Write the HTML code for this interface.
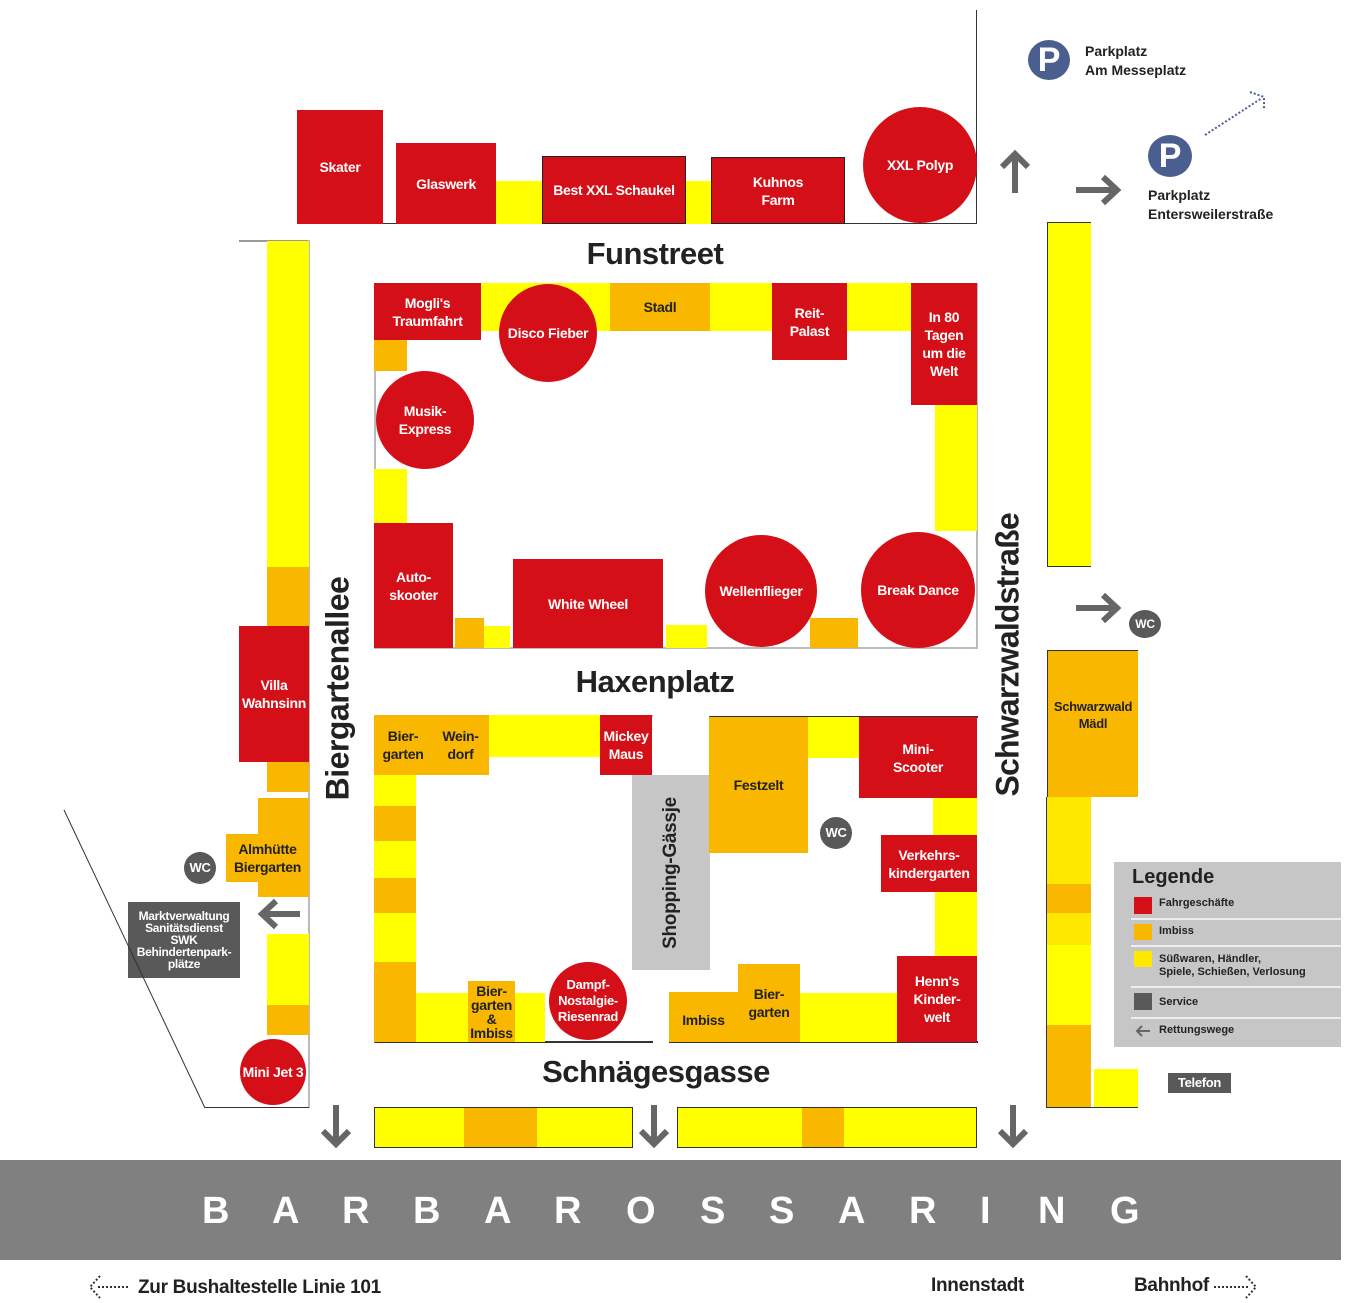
<!DOCTYPE html>
<html><head><meta charset="utf-8"><style>
*{margin:0;padding:0;box-sizing:border-box}
body{width:1352px;height:1303px;position:relative;background:#fff;overflow:hidden;font-family:"Liberation Sans Narrow","Liberation Sans",sans-serif;font-weight:bold}
div{position:absolute}
.b{display:flex;align-items:center;justify-content:center;text-align:center;font-size:14px;line-height:18px;letter-spacing:-0.3px}
.r{background:#d40f17;color:#fff}
.y{background:#ffff00}
.o{background:#f9b700;color:#222}
.c{border-radius:50%}
.g{background:#595959;color:#fff}
.t{font-family:"Liberation Sans",sans-serif;color:#222;white-space:nowrap}
.ln{background:#999}
</style></head><body>

<div class="ln" style="left:976px;top:10px;width:1px;height:214px;background:#333"></div>
<div class="ln" style="left:297px;top:223px;width:680px;height:1px;background:#333"></div>
<div class="b r" style="left:297px;top:110px;width:86px;height:114px">Skater</div>
<div class="b r" style="left:396px;top:143px;width:100px;height:81px">Glaswerk</div>
<div class="y" style="left:496px;top:181px;width:46px;height:43px"></div>
<div class="b r" style="left:542px;top:156px;width:144px;height:68px;border:1px solid #222">Best XXL Schaukel</div>
<div class="y" style="left:686px;top:181px;width:25px;height:43px"></div>
<div class="b r" style="left:711px;top:157px;width:134px;height:67px;border:1px solid #222">Kuhnos<br>Farm</div>
<div class="b r c" style="left:863px;top:107px;width:114px;height:116px">XXL Polyp</div>

<div class="t" style="left:540px;top:236px;width:230px;text-align:center;font-size:31px;letter-spacing:-0.5px">Funstreet</div>

<div class="ln" style="left:239px;top:240px;width:70px;height:2px"></div>
<div class="ln" style="left:308px;top:240px;width:2px;height:868px;background:#bbb"></div>
<div class="y" style="left:267px;top:241px;width:42px;height:326px"></div>
<div class="o" style="left:267px;top:567px;width:42px;height:59px"></div>
<div class="b r" style="left:239px;top:626px;width:70px;height:136px">Villa<br>Wahnsinn</div>
<div class="o" style="left:267px;top:762px;width:42px;height:30px"></div>
<div class="o" style="left:258px;top:798px;width:51px;height:99px"></div>
<div class="b o" style="left:226px;top:834px;width:83px;height:48px">Almhütte<br>Biergarten</div>
<div class="b g c" style="left:184px;top:852px;width:32px;height:32px;font-size:13px">WC</div>
<div class="b g" style="left:128px;top:902px;width:112px;height:76px;font-size:12px;line-height:12px">Marktverwaltung<br>Sanitätsdienst<br>SWK<br>Behindertenpark-<br>plätze</div>
<div class="y" style="left:267px;top:934px;width:42px;height:71px"></div>
<div class="o" style="left:267px;top:1005px;width:42px;height:30px"></div>
<div class="b r c" style="left:240px;top:1039px;width:66px;height:66px">Mini Jet 3</div>
<div class="ln" style="left:205px;top:1107px;width:104px;height:1px;background:#333"></div>
<svg style="position:absolute;left:0;top:0" width="1352" height="1303">
<line x1="64" y1="810" x2="205" y2="1108" stroke="#333" stroke-width="1"/>
<g stroke="#666" stroke-width="6" fill="none">
<path d="M300 914H262M276 901L262 914L276 927"/>
<path d="M336 1105V1143M323 1131L336 1144L349 1131"/>
<path d="M654 1105V1143M641 1131L654 1144L667 1131"/>
<path d="M1013 1105V1143M1000 1131L1013 1144L1026 1131"/>
<path d="M1015 193V155M1002 167L1015 154L1028 167"/>
<path d="M1076 190H1116M1103 177L1117 190L1103 203"/>
<path d="M1076 608H1116M1103 595L1117 608L1103 621"/>
</g>
<g stroke="#4a5f8f" stroke-width="2" fill="none" stroke-dasharray="2 2">
<path d="M1205 135L1262 98M1250 92L1264 97L1264 110"/>
</g>
<g stroke="#333" stroke-width="2" fill="none" stroke-dasharray="2 2">
<path d="M128 1287H96M100 1276L90 1287L100 1298"/>
<path d="M1214 1287H1250M1246 1276L1256 1287L1246 1298"/>
</g>
</svg>
<div class="t" style="left:320px;top:690px;width:36px;height:0;"><div style="left:-100px;top:-20px;width:236px;text-align:center;font-size:32px;letter-spacing:-0.5px;transform:rotate(-90deg)">Biergartenallee</div></div>

<div style="left:374px;top:283px;width:604px;height:366px;border:2px solid #bbb"></div>
<div class="y" style="left:481px;top:283px;width:430px;height:48px"></div>
<div class="b r" style="left:374px;top:283px;width:107px;height:57px">Mogli's<br>Traumfahrt</div>
<div class="b o" style="left:610px;top:283px;width:100px;height:48px">Stadl</div>
<div class="b r c" style="left:499px;top:284px;width:98px;height:98px">Disco Fieber</div>
<div class="b r" style="left:772px;top:283px;width:75px;height:77px">Reit-<br>Palast</div>
<div class="b r" style="left:911px;top:283px;width:66px;height:122px">In 80<br>Tagen<br>um die<br>Welt</div>
<div class="y" style="left:935px;top:405px;width:42px;height:126px"></div>
<div class="o" style="left:374px;top:340px;width:33px;height:31px"></div>
<div class="b r c" style="left:376px;top:371px;width:98px;height:98px">Musik-<br>Express</div>
<div class="y" style="left:374px;top:469px;width:33px;height:54px"></div>
<div class="b r" style="left:374px;top:523px;width:79px;height:125px">Auto-<br>skooter</div>
<div class="o" style="left:455px;top:618px;width:29px;height:30px"></div>
<div class="y" style="left:484px;top:626px;width:26px;height:22px"></div>
<div class="b r" style="left:513px;top:559px;width:150px;height:89px">White Wheel</div>
<div class="y" style="left:666px;top:625px;width:41px;height:23px"></div>
<div class="o" style="left:810px;top:618px;width:48px;height:30px"></div>
<div class="b r c" style="left:705px;top:535px;width:112px;height:112px">Wellenflieger</div>
<div class="b r c" style="left:861px;top:532px;width:114px;height:116px">Break Dance</div>

<div class="t" style="left:540px;top:664px;width:230px;text-align:center;font-size:31px;letter-spacing:-0.5px">Haxenplatz</div>

<div style="left:374px;top:715px;width:279px;height:328px;border-left:2px solid #bbb;border-top:2px solid #bbb;border-bottom:2px solid #333"></div>
<div class="y" style="left:489px;top:715px;width:111px;height:42px"></div>
<div class="b o" style="left:374px;top:715px;width:58px;height:60px">Bier-<br>garten</div>
<div class="b o" style="left:432px;top:715px;width:57px;height:60px">Wein-<br>dorf</div>
<div class="b r" style="left:600px;top:715px;width:52px;height:60px">Mickey<br>Maus</div>
<div class="y" style="left:374px;top:775px;width:42px;height:31px"></div>
<div class="o" style="left:374px;top:806px;width:42px;height:35px"></div>
<div class="y" style="left:374px;top:841px;width:42px;height:37px"></div>
<div class="o" style="left:374px;top:878px;width:42px;height:35px"></div>
<div class="y" style="left:374px;top:913px;width:42px;height:49px"></div>
<div class="o" style="left:374px;top:962px;width:42px;height:80px"></div>
<div class="y" style="left:416px;top:993px;width:129px;height:49px"></div>
<div class="b o" style="left:468px;top:981px;width:47px;height:61px;line-height:14px">Bier-<br>garten<br>&amp;<br>Imbiss</div>
<div class="b r c" style="left:549px;top:962px;width:78px;height:78px;font-size:13px;line-height:16px">Dampf-<br>Nostalgie-<br>Riesenrad</div>
<div class="b" style="left:632px;top:775px;width:78px;height:195px;background:#c6c6c6"><div style="position:static;transform:rotate(-90deg);white-space:nowrap;font-family:'Liberation Sans',sans-serif;font-size:19px;color:#222">Shopping-Gässje</div></div>

<div style="left:669px;top:716px;width:309px;height:327px;border-top:2px solid #333;border-bottom:2px solid #333;border-left:1px solid #333;clip-path:polygon(0 0,100% 0,100% 100%,0 100%,0 85%,13% 85%,13% 0)"></div>
<div class="b o" style="left:709px;top:717px;width:99px;height:136px">Festzelt</div>
<div class="y" style="left:808px;top:717px;width:51px;height:41px"></div>
<div class="b r" style="left:859px;top:717px;width:118px;height:81px">Mini-<br>Scooter</div>
<div class="y" style="left:933px;top:798px;width:44px;height:37px"></div>
<div class="b r" style="left:881px;top:835px;width:96px;height:57px">Verkehrs-<br>kindergarten</div>
<div class="y" style="left:935px;top:892px;width:42px;height:64px"></div>
<div class="b r" style="left:897px;top:956px;width:80px;height:86px">Henn's<br>Kinder-<br>welt</div>
<div class="b g c" style="left:820px;top:817px;width:32px;height:32px;font-size:13px">WC</div>
<div class="b o" style="left:669px;top:992px;width:69px;height:50px;padding-top:6px">Imbiss</div>
<div class="b o" style="left:738px;top:964px;width:62px;height:78px">Bier-<br>garten</div>
<div class="y" style="left:800px;top:993px;width:97px;height:49px"></div>

<div class="t" style="left:520px;top:1054px;width:272px;text-align:center;font-size:31px;letter-spacing:-0.5px">Schnägesgasse</div>

<div class="y" style="left:374px;top:1107px;width:259px;height:41px;border:1px solid #333"></div>
<div class="o" style="left:464px;top:1108px;width:73px;height:39px"></div>
<div class="y" style="left:677px;top:1107px;width:300px;height:41px;border:1px solid #333"></div>
<div class="o" style="left:802px;top:1108px;width:42px;height:39px"></div>

<div style="left:0;top:1160px;width:1341px;height:100px;background:#808080"></div>
<div style="left:0;top:1190px;width:1352px;height:44px;font-family:'Liberation Sans',sans-serif;font-size:38px;color:#fff">
<span style="position:absolute;left:202px">B</span><span style="position:absolute;left:272px">A</span><span style="position:absolute;left:342px">R</span><span style="position:absolute;left:413px">B</span><span style="position:absolute;left:484px">A</span><span style="position:absolute;left:554px">R</span><span style="position:absolute;left:626px">O</span><span style="position:absolute;left:700px">S</span><span style="position:absolute;left:769px">S</span><span style="position:absolute;left:838px">A</span><span style="position:absolute;left:909px">R</span><span style="position:absolute;left:980px">I</span><span style="position:absolute;left:1038px">N</span><span style="position:absolute;left:1110px">G</span>
</div>
<div class="t" style="left:138px;top:1277px;font-size:19px;letter-spacing:-0.3px">Zur Bushaltestelle Linie 101</div>
<div class="t" style="left:931px;top:1275px;font-size:19px;letter-spacing:-0.3px">Innenstadt</div>
<div class="t" style="left:1134px;top:1275px;font-size:19px;letter-spacing:-0.3px">Bahnhof</div>

<div class="t" style="left:990px;top:660px;width:36px;height:0"><div style="left:-120px;top:-20px;width:276px;text-align:center;font-size:32px;letter-spacing:-0.8px;transform:rotate(-90deg)">Schwarzwaldstraße</div></div>
<div class="y" style="left:1047px;top:222px;width:44px;height:345px;border-left:1px solid #333;border-top:1px solid #333;border-bottom:1px solid #333"></div>
<div class="b g" style="left:1129px;top:610px;width:32px;height:28px;border-radius:50%;font-size:12px;font-family:'Liberation Sans',sans-serif">WC</div>
<div class="b o" style="left:1047px;top:650px;width:91px;height:147px;font-size:13px;line-height:17px;font-family:'Liberation Sans',sans-serif;border-left:1px solid #333;border-top:1px solid #333;padding-bottom:18px">Schwarzwald<br>Mädl</div>
<div style="left:1047px;top:797px;width:44px;height:87px;background:#ffe800"></div>
<div class="o" style="left:1047px;top:884px;width:44px;height:29px"></div>
<div style="left:1047px;top:913px;width:44px;height:32px;background:#ffe800"></div>
<div class="y" style="left:1047px;top:945px;width:44px;height:80px"></div>
<div class="o" style="left:1047px;top:1025px;width:44px;height:82px"></div>
<div style="left:1046px;top:797px;width:1px;height:311px;background:#333"></div>
<div style="left:1046px;top:1107px;width:92px;height:1px;background:#333"></div>
<div class="y" style="left:1094px;top:1069px;width:44px;height:38px"></div>
<div class="b g" style="left:1168px;top:1073px;width:63px;height:20px;font-size:13px;font-family:'Liberation Sans',sans-serif">Telefon</div>

<div style="left:1114px;top:862px;width:227px;height:185px;background:#c6c6c6;font-family:'Liberation Sans',sans-serif;color:#222">
<div style="left:18px;top:4px;font-size:20px">Legende</div>
<div style="left:20px;top:35px;width:18px;height:17px;background:#d40f17"></div>
<div style="left:45px;top:35px;font-size:11px">Fahrgeschäfte</div>
<div style="left:17px;top:56px;width:210px;height:2px;background:#eee"></div>
<div style="left:20px;top:62px;width:18px;height:16px;background:#f9b700"></div>
<div style="left:45px;top:63px;font-size:11px">Imbiss</div>
<div style="left:17px;top:83px;width:210px;height:2px;background:#eee"></div>
<div style="left:20px;top:89px;width:18px;height:16px;background:#ffe800"></div>
<div style="left:45px;top:91px;font-size:11px;line-height:13px;white-space:nowrap">Süßwaren, Händler,<br>Spiele, Schießen, Verlosung</div>
<div style="left:17px;top:124px;width:210px;height:2px;background:#eee"></div>
<div style="left:20px;top:131px;width:18px;height:17px;background:#595959"></div>
<div style="left:45px;top:134px;font-size:11px">Service</div>
<div style="left:17px;top:155px;width:210px;height:2px;background:#eee"></div>
<svg style="position:absolute;left:20px;top:162px" width="18" height="14"><path d="M16 7H3M8 2L3 7L8 12" stroke="#666" stroke-width="2" fill="none"/></svg>
<div style="left:45px;top:162px;font-size:11px">Rettungswege</div>
</div>

<div class="b" style="left:1028px;top:40px;width:42px;height:40px;border-radius:50%;background:#4a5f8f;color:#fff;font-family:'Liberation Sans',sans-serif;font-size:34px">P</div>
<div class="t" style="left:1085px;top:42px;font-size:14px;line-height:19px">Parkplatz<br>Am Messeplatz</div>
<div class="b" style="left:1148px;top:135px;width:44px;height:42px;border-radius:50%;background:#4a5f8f;color:#fff;font-family:'Liberation Sans',sans-serif;font-size:34px">P</div>
<div class="t" style="left:1148px;top:186px;font-size:14px;line-height:19px">Parkplatz<br>Entersweilerstraße</div>
</body></html>
